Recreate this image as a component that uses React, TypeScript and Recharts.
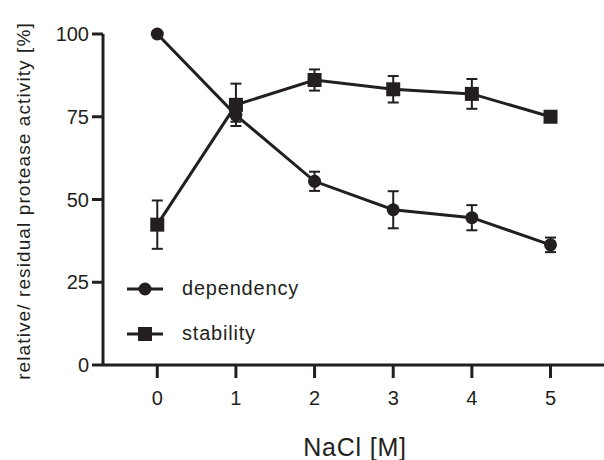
import { ErrorBar, Line, LineChart, XAxis, YAxis } from 'recharts'

const INK = '#231f20'
const FONT = '"Liberation Sans", Arial, sans-serif'

const nacl = [0, 1, 2, 3, 4, 5]
const dependency = [100, 75.5, 55.5, 46.9, 44.5, 36.3]
const dependencyErr = [0, 2, 2.9, 5.6, 3.8, 2.2]
const stability = [42.4, 78.6, 86.1, 83.3, 81.9, 75]
const stabilityErr = [7.3, 6.4, 3.2, 4, 4.5, 0]
const xTicks = [0, 1, 2, 3, 4, 5]
const yTicks = [0, 25, 50, 75, 100]

const data = nacl.map((x, i) => ({
  nacl: x,
  dependency: dependency[i],
  dependencyErr: dependencyErr[i],
  stability: stability[i],
  stabilityErr: stabilityErr[i],
}))

const legendItems = [
  { name: 'dependency', marker: 'circle' },
  { name: 'stability', marker: 'square' },
]

function CircleDot(props: any) {
  const { cx, cy, index } = props
  if (cx == null || cy == null) return null
  return <circle key={`c${index}`} cx={cx} cy={cy} r={6.5} fill={INK} />
}

function SquareDot(props: any) {
  const { cx, cy, index } = props
  if (cx == null || cy == null) return null
  return <rect key={`s${index}`} x={cx - 7} y={cy - 7} width={14} height={14} fill={INK} />
}

// legend sits inside the plot, bottom-left, like the Prism original
function LegendBox() {
  return (
    <div style={{ position: 'absolute', left: 127, top: 266, fontFamily: FONT }}>
      {legendItems.map((item) => (
        <div key={item.name} style={{ display: 'flex', alignItems: 'center', height: 45 }}>
          <svg width={36} height={20} style={{ marginRight: 19 }}>
            <line x1={0} x2={36} y1={10} y2={10} stroke={INK} strokeWidth={3} />
            {item.marker === 'circle'
              ? <circle cx={18} cy={10} r={6.5} fill={INK} />
              : <rect x={11} y={3} width={14} height={14} fill={INK} />}
          </svg>
          <span style={{ fontSize: 20, color: INK, letterSpacing: 0.8 }}>{item.name}</span>
        </div>
      ))}
    </div>
  )
}

export default function App() {
  return (
    <div style={{ position: 'absolute', left: 0, top: 0, width: 604, height: 460, background: '#fff' }}>
      <LineChart width={604} height={460} data={data} margin={{ top: 34, right: 0, bottom: 0, left: 0 }}>
        <XAxis
          dataKey="nacl"
          type="number"
          domain={[-0.69, 5.68]}
          ticks={xTicks}
          allowDataOverflow
          height={95}
          stroke={INK}
          axisLine={{ stroke: INK, strokeWidth: 3 }}
          tickLine={{ stroke: INK, strokeWidth: 3 }}
          tickSize={13}
          tickMargin={13}
          tick={{ fill: INK, fontSize: 20, fontFamily: FONT }}
          label={{
            content: () => (
              <text x={355} y={456} textAnchor="middle" fill={INK} fontSize={25} fontFamily={FONT} letterSpacing={0.8}>
                NaCl [M]
              </text>
            ),
          }}
        />
        <YAxis
          type="number"
          domain={[0, 100]}
          ticks={yTicks}
          width={103}
          stroke={INK}
          axisLine={{ stroke: INK, strokeWidth: 3 }}
          tickLine={{ stroke: INK, strokeWidth: 3 }}
          tickSize={11}
          tickMargin={3}
          tick={{ fill: INK, fontSize: 20, fontFamily: FONT }}
          label={{
            content: () => (
              <text
                x={30}
                y={201}
                transform="rotate(-90 30 201)"
                textAnchor="middle"
                fill={INK}
                fontSize={19}
                fontFamily={FONT}
                letterSpacing={1.1}
              >
                relative/ residual protease activity [%]
              </text>
            ),
          }}
        />
        <Line
          dataKey="dependency"
          stroke={INK}
          strokeWidth={3}
          dot={CircleDot}
          activeDot={false}
          isAnimationActive={false}
        >
          <ErrorBar dataKey="dependencyErr" direction="y" width={5.5} stroke={INK} strokeWidth={2} isAnimationActive={false} />
        </Line>
        <Line
          dataKey="stability"
          stroke={INK}
          strokeWidth={3}
          dot={SquareDot}
          activeDot={false}
          isAnimationActive={false}
        >
          <ErrorBar dataKey="stabilityErr" direction="y" width={5.5} stroke={INK} strokeWidth={2} isAnimationActive={false} />
        </Line>
      </LineChart>
      <LegendBox />
    </div>
  )
}
